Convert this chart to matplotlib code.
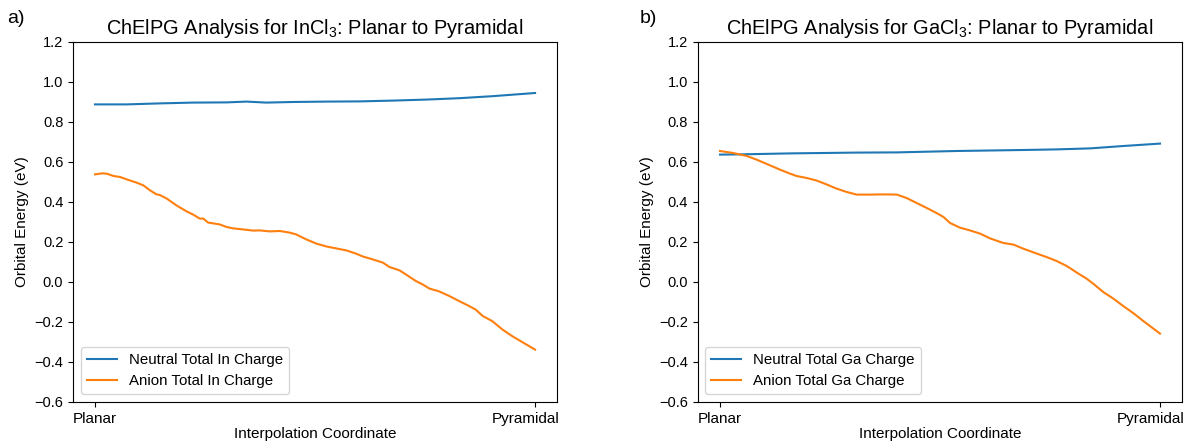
import matplotlib
matplotlib.use("Agg")
import matplotlib.pyplot as plt
import matplotlib.transforms as mtransforms

plt.rcParams['font.family'] = ['Liberation Sans', 'DejaVu Sans']
plt.rcParams['mathtext.fontset'] = 'custom'
plt.rcParams['mathtext.rm'] = 'Liberation Sans'
plt.rcParams['mathtext.it'] = 'Liberation Sans:italic'
plt.rcParams['mathtext.default'] = 'regular'

# InCl3 (interpolation coordinate 0 = planar, 1 = pyramidal)
in_neutral_t = [0, 0.072, 0.147, 0.223, 0.299, 0.344, 0.389, 0.450, 0.525,
                0.601, 0.677, 0.752, 0.828, 0.903, 1.0]
in_neutral = [0.888, 0.888, 0.893, 0.897, 0.898, 0.902, 0.897, 0.900, 0.902,
              0.903, 0.907, 0.912, 0.919, 0.929, 0.945]

in_anion_t = [0, 0.015, 0.026, 0.042, 0.057, 0.072, 0.094, 0.110, 0.125, 0.140,
              0.147, 0.163, 0.185, 0.208, 0.223, 0.238, 0.246, 0.257, 0.283, 0.299,
              0.314, 0.336, 0.359, 0.374, 0.397, 0.420, 0.442, 0.457, 0.480, 0.503,
              0.525, 0.548, 0.571, 0.593, 0.608, 0.631, 0.654, 0.669, 0.692, 0.707,
              0.729, 0.745, 0.760, 0.782, 0.805, 0.828, 0.850, 0.865, 0.881, 0.903,
              0.926, 0.949, 0.979, 1.0]
in_anion = [0.538, 0.543, 0.542, 0.530, 0.525, 0.513, 0.497, 0.483, 0.458, 0.438,
            0.435, 0.417, 0.383, 0.353, 0.337, 0.317, 0.317, 0.297, 0.288, 0.275,
            0.268, 0.263, 0.257, 0.258, 0.253, 0.255, 0.247, 0.238, 0.213, 0.192,
            0.178, 0.168, 0.158, 0.142, 0.128, 0.113, 0.097, 0.075, 0.058, 0.037,
            0.005, -0.013, -0.033, -0.047, -0.070, -0.096, -0.120, -0.138, -0.170, -0.196,
            -0.238, -0.272, -0.311, -0.338]

# GaCl3
ga_neutral_t = [0, 0.045, 0.159, 0.311, 0.402, 0.538, 0.689, 0.765, 0.841, 0.917, 1.0]
ga_neutral = [0.637, 0.638, 0.643, 0.647, 0.648, 0.655, 0.660, 0.663, 0.668, 0.680, 0.692]

ga_anion_t = [0, 0.030, 0.061, 0.083, 0.114, 0.136, 0.159, 0.174, 0.197, 0.220,
              0.242, 0.265, 0.288, 0.311, 0.341, 0.371, 0.402, 0.424, 0.447, 0.470,
              0.492, 0.508, 0.523, 0.545, 0.568, 0.591, 0.614, 0.644, 0.667, 0.689,
              0.720, 0.742, 0.765, 0.788, 0.811, 0.833, 0.848, 0.871, 0.894, 0.917,
              0.939, 0.962, 0.985, 1.0]
ga_anion = [0.655, 0.645, 0.630, 0.612, 0.583, 0.562, 0.542, 0.530, 0.520, 0.507,
            0.488, 0.467, 0.450, 0.437, 0.437, 0.438, 0.437, 0.420, 0.395, 0.370,
            0.345, 0.325, 0.295, 0.272, 0.258, 0.242, 0.218, 0.195, 0.187, 0.167,
            0.142, 0.125, 0.105, 0.080, 0.047, 0.017, -0.008, -0.050, -0.083, -0.121,
            -0.155, -0.195, -0.233, -0.258]

xtick_pos = [0, 1]
xtick_labels = ['Planar', 'Pyramidal']

fig = plt.figure(figsize=(11.84, 4.42), dpi=100)
ax1 = fig.add_axes([0.0617, 0.0905, 0.4088, 0.8145])
ax2 = fig.add_axes([0.5895, 0.0905, 0.4088, 0.8145])

panels = [
    (ax1, 'In', 'InCl$_3$', in_neutral_t, in_neutral, in_anion_t, in_anion),
    (ax2, 'Ga', 'GaCl$_3$', ga_neutral_t, ga_neutral, ga_anion_t, ga_anion),
]

# nudge the right-hand tick label a bit left so it stays inside the figure
shift = mtransforms.ScaledTranslation(-9 / 100, 0, fig.dpi_scale_trans)

for ax, el, formula, nt, nv, at, av in panels:
    ax.plot(nt, nv, color='tab:blue', label=f'Neutral Total {el} Charge')
    ax.plot(at, av, color='tab:orange', label=f'Anion Total {el} Charge')
    ax.set_ylim(-0.6, 1.2)
    ax.set_yticks([-0.6, -0.4, -0.2, 0.0, 0.2, 0.4, 0.6, 0.8, 1.0, 1.2])
    ax.set_xticks(xtick_pos)
    ax.set_xticklabels(xtick_labels, fontsize=11)
    ax.tick_params(axis='y', labelsize=10.5)
    ax.get_xticklabels()[1].set_transform(ax.get_xticklabels()[1].get_transform() + shift)
    ax.set_xlabel('Interpolation Coordinate', fontsize=11, labelpad=1)
    ax.set_ylabel('Orbital Energy (eV)', fontsize=11)
    ax.set_title(f'ChElPG Analysis for {formula}: Planar to Pyramidal', fontsize=14.4)
    ax.legend(loc='lower left', fontsize=10.8)

fig.text(0.006, 0.958, 'a)', fontsize=14, va='center')
fig.text(0.540, 0.958, 'b)', fontsize=14, va='center')

fig.savefig('out.png', dpi=100)
